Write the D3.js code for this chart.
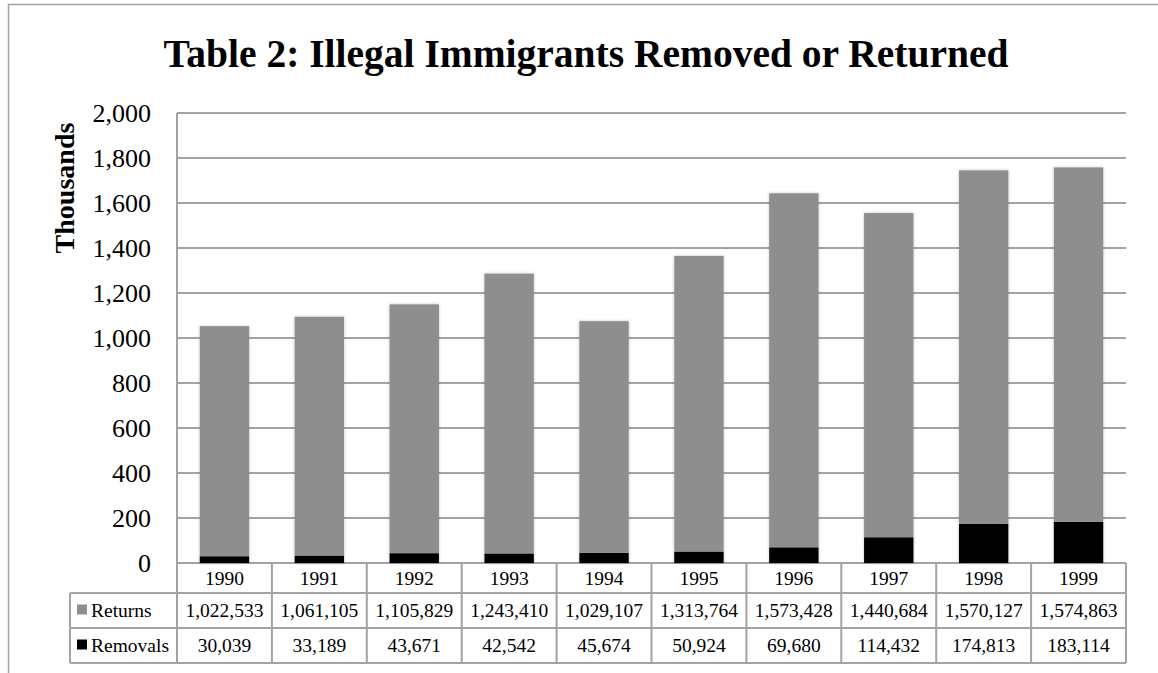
<!DOCTYPE html>
<html>
<head>
<meta charset="utf-8">
<script src="https://cdn.jsdelivr.net/npm/d3@7"></script>
<style>
  body { margin: 0; background: #fff; }
  svg { display: block; font-family: "Liberation Serif", "Times New Roman", serif; }
</style>
</head>
<body>
<script>
var w = 1158;
var h = 673;

// values from the data table under the chart
var years = ["1990", "1991", "1992", "1993", "1994", "1995", "1996", "1997", "1998", "1999"];
var returns = [1022533, 1061105, 1105829, 1243410, 1029107, 1313764, 1573428, 1440684, 1570127, 1574863];
var removals = [30039, 33189, 43671, 42542, 45674, 50924, 69680, 114432, 174813, 183114];
var yTicks = [0, 200, 400, 600, 800, 1000, 1200, 1400, 1600, 1800, 2000];

var seriesColors = {Returns: "#8e8e8e", Removals: "#000000"};

var margin = {top: 113, left: 177, right: 32, bottom: 110};
var width = w - margin.left - margin.right;
var height = h - margin.top - margin.bottom;
var lineColor = "#a3a3a3";

var svg = d3.select("body")
  .append("svg")
  .attr("width", w)
  .attr("height", h);

var defs = svg.append("defs");
var shadow = defs.append("filter").attr("id", "shadow")
  .attr("x", "-20%").attr("y", "-5%").attr("width", "140%").attr("height", "110%");
shadow.append("feDropShadow")
  .attr("dx", 0).attr("dy", 0).attr("stdDeviation", 1.5)
  .attr("flood-color", "#000").attr("flood-opacity", 0.25);

// outer chart frame (runs off the right and bottom of the picture)
svg.append("rect")
  .attr("x", 8.5).attr("y", 4.5)
  .attr("width", 1170).attr("height", 700)
  .attr("fill", "none")
  .attr("stroke", lineColor)
  .attr("stroke-width", 1.5);

svg.append("text")
  .attr("x", 586)
  .attr("y", 67)
  .attr("text-anchor", "middle")
  .attr("font-weight", "bold")
  .attr("font-size", 39.5)
  .text("Table 2: Illegal Immigrants Removed or Returned");

var g = svg.append("g")
  .attr("transform", "translate(" + margin.left + "," + margin.top + ")");

var x = d3.scaleBand()
  .domain(years)
  .range([0, width])
  .paddingInner(0.48)
  .paddingOuter(0.24);

var y = d3.scaleLinear()
  .domain([0, 2000])
  .range([height, 0]);

// gridlines
g.append("g")
  .selectAll("line")
  .data(yTicks)
  .enter()
  .append("line")
  .attr("x1", 0)
  .attr("x2", width)
  .attr("y1", function(d){ return y(d); })
  .attr("y2", function(d){ return y(d); })
  .attr("stroke", lineColor)
  .attr("stroke-width", 2);

// y axis labels
var yAxis = d3.axisLeft(y)
  .tickValues(yTicks)
  .tickSize(0)
  .tickPadding(26)
  .tickFormat(d3.format(","));

g.append("g")
  .call(yAxis)
  .call(function(a){ a.select(".domain").remove(); })
  .selectAll("text")
  .attr("font-family", "Liberation Serif, serif")
  .attr("font-size", 26)
  .attr("fill", "#000");

g.append("line")
  .attr("x1", 0).attr("x2", 0)
  .attr("y1", 0).attr("y2", height)
  .attr("stroke", lineColor)
  .attr("stroke-width", 2);

svg.append("text")
  .attr("transform", "translate(74,188) rotate(-90)")
  .attr("text-anchor", "middle")
  .attr("font-weight", "bold")
  .attr("font-size", 28)
  .text("Thousands");

// stacked bars, values in thousands
var rows = years.map(function(yr, i){
  return {year: yr, Removals: removals[i] / 1000, Returns: returns[i] / 1000};
});
var stack = d3.stack().keys(["Removals", "Returns"]);
var stacked = stack(rows);

g.append("g")
  .attr("filter", "url(#shadow)")
  .selectAll("g")
  .data(stacked)
  .enter()
  .append("g")
  .attr("fill", function(d){ return seriesColors[d.key]; })
  .selectAll("rect")
  .data(function(d){ return d; })
  .enter()
  .append("rect")
  .attr("x", function(d){ return x(d.data.year); })
  .attr("width", x.bandwidth())
  .attr("y", function(d){ return y(d[1]); })
  .attr("height", function(d){ return y(d[0]) - y(d[1]); });

// data table below the plot
var rowH = [30, 35, 35];
var labelLeft = 70 - margin.left;
var colW = width / years.length;
var t = g.append("g").attr("class", "table");
var tableRows = [
  {label: null, values: years},
  {label: "Returns", values: returns.map(d3.format(","))},
  {label: "Removals", values: removals.map(d3.format(","))}
];

var yPos = height;
tableRows.forEach(function(r, ri){
  var top = yPos;
  var bottom = yPos + rowH[ri];
  var left = r.label ? labelLeft : 0;
  t.append("line")
    .attr("x1", left).attr("x2", width)
    .attr("y1", bottom).attr("y2", bottom)
    .attr("stroke", lineColor).attr("stroke-width", 2);
  if (r.label) {
    t.append("line")
      .attr("x1", left).attr("x2", width)
      .attr("y1", top).attr("y2", top)
      .attr("stroke", lineColor).attr("stroke-width", 2);
  }
  var xs = years.map(function(d, i){ return i * colW; }).concat([width]);
  if (r.label) xs.unshift(left);
  xs.forEach(function(xv){
    t.append("line")
      .attr("x1", xv).attr("x2", xv)
      .attr("y1", top).attr("y2", bottom)
      .attr("stroke", lineColor).attr("stroke-width", 2);
  });
  r.values.forEach(function(v, i){
    t.append("text")
      .attr("x", x(years[i]) + x.bandwidth() / 2)
      .attr("y", (top + bottom) / 2 + 6.5)
      .attr("text-anchor", "middle")
      .attr("font-size", 19.5)
      .text(v);
  });
  if (r.label) {
    t.append("rect")
      .attr("x", left + 7)
      .attr("y", (top + bottom) / 2 - 6)
      .attr("width", 10).attr("height", 10)
      .attr("fill", seriesColors[r.label]);
    t.append("text")
      .attr("x", left + 21)
      .attr("y", (top + bottom) / 2 + 6.5)
      .attr("font-size", 19.5)
      .text(r.label);
  }
  yPos = bottom;
});
</script>
</body>
</html>
